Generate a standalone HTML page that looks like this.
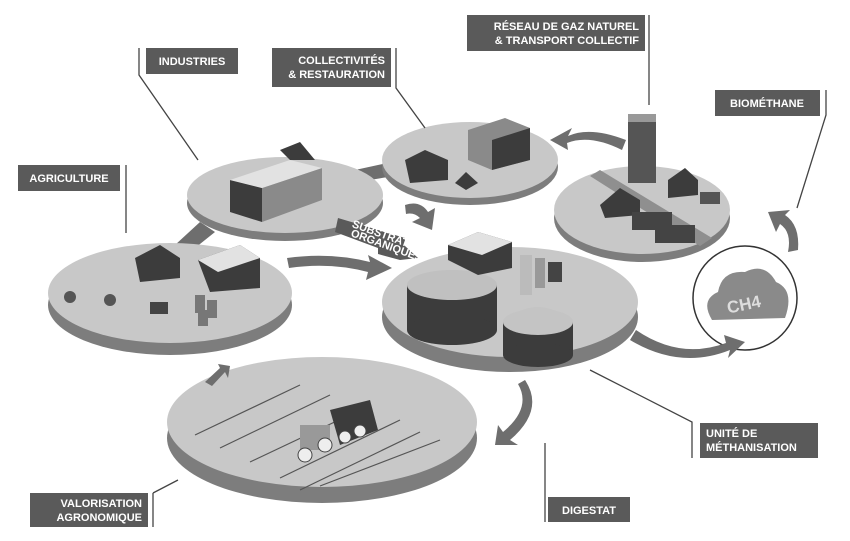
<!DOCTYPE html>
<html><head><meta charset="utf-8"><style>
body{margin:0;background:#fff}
svg{display:block}
.l{fill:#5a5a5a}
.t{fill:#fff;font-family:"Liberation Sans",sans-serif;font-weight:bold;font-size:11px}
.ln{stroke:#444;stroke-width:1.3;fill:none}
.top{fill:#c8c8c8}
.side{fill:#7d7d7d}
.arr{fill:#6e6e6e}
.bd{fill:#3c3c3c}
.bm{fill:#8a8a8a}
.bl{fill:#e2e2e2}
</style></head><body>
<svg width="850" height="541" viewBox="0 0 850 541">
<path class="arr" d="M175 245 L200 222 L215 232 L190 252Z"/>
<path class="arr" d="M355 170 L392 162 L394 176 L358 182Z"/>
<ellipse class="side" cx="285" cy="203" rx="98" ry="38"/><ellipse class="top" cx="285" cy="195" rx="98" ry="38"/>
<ellipse class="side" cx="470" cy="167" rx="88" ry="38"/><ellipse class="top" cx="470" cy="160" rx="88" ry="38"/>
<ellipse class="side" cx="642" cy="218" rx="88" ry="44"/><ellipse class="top" cx="642" cy="210" rx="88" ry="44"/>
<path d="M590 176 L700 246 L712 238 L600 170Z" fill="#8f8f8f"/>
<ellipse class="side" cx="170" cy="305" rx="122" ry="50"/><ellipse class="top" cx="170" cy="293" rx="122" ry="50"/>
<ellipse class="side" cx="510" cy="317" rx="128" ry="55"/><ellipse class="top" cx="510" cy="302" rx="128" ry="55"/>
<ellipse class="side" cx="322" cy="438" rx="155" ry="65"/><ellipse class="top" cx="322" cy="422" rx="155" ry="65"/>
<g stroke="#555" stroke-width="1.2">
<line x1="195" y1="435" x2="300" y2="385"/><line x1="220" y1="448" x2="330" y2="395"/><line x1="250" y1="462" x2="360" y2="410"/><line x1="280" y1="478" x2="400" y2="420"/><line x1="300" y1="490" x2="420" y2="432"/><line x1="320" y1="486" x2="440" y2="440"/>
</g>
<path class="bd" d="M330 410 L370 400 L378 430 L340 445Z"/><rect x="300" y="425" width="30" height="25" fill="#999"/>
<circle cx="305" cy="455" r="7" fill="#eee" stroke="#444"/><circle cx="325" cy="445" r="7" fill="#eee" stroke="#444"/><circle cx="345" cy="437" r="6" fill="#eee" stroke="#444"/><circle cx="360" cy="431" r="6" fill="#eee" stroke="#444"/>
<path class="bd" d="M230 180 L262 188 L262 222 L230 212Z"/><path class="bm" d="M262 188 L322 168 L322 200 L262 222Z"/><path class="bl" d="M230 180 L290 160 L322 168 L262 188Z"/><path class="bd" d="M280 150 L300 142 L315 160 L290 160Z"/>
<path class="bm" d="M468 130 L505 118 L530 128 L530 160 L492 170 L468 160Z"/><path class="bd" d="M492 140 L530 128 L530 160 L492 170Z"/>
<path class="bd" d="M405 160 L425 150 L448 160 L448 180 L410 183Z"/><path class="bd" d="M455 183 L466 172 L478 183 L466 190Z"/>
<rect x="628" y="118" width="28" height="65" fill="#555"/><rect x="628" y="114" width="28" height="8" fill="#999"/>
<path class="bd" d="M600 205 L620 188 L640 200 L640 215 L605 218Z"/><path class="bd" d="M668 180 L685 168 L698 180 L698 195 L668 198Z"/>
<rect x="632" y="212" width="40" height="18" fill="#444"/><rect x="655" y="225" width="40" height="18" fill="#444"/><rect x="700" y="192" width="20" height="12" fill="#555"/>
<path class="bd" d="M135 258 L160 245 L180 258 L180 278 L140 282Z"/><path class="bd" d="M198 260 L240 245 L260 258 L260 288 L210 292Z"/><path class="bl" d="M198 260 L240 245 L260 258 L218 272Z"/>
<circle cx="70" cy="297" r="6" fill="#555"/><circle cx="110" cy="300" r="6" fill="#555"/>
<rect x="195" y="295" width="10" height="18" fill="#777"/><rect x="207" y="300" width="10" height="18" fill="#777"/><rect x="198" y="310" width="10" height="16" fill="#777"/>
<rect x="150" y="302" width="18" height="12" fill="#444"/>
<rect x="407" y="285" width="90" height="45" class="bd"/><ellipse cx="452" cy="330" rx="45" ry="15" class="bd"/><ellipse cx="452" cy="285" rx="45" ry="15" fill="#c0c0c0"/><path d="M407 285 Q452 255 497 285" fill="#c0c0c0"/>
<rect x="503" y="322" width="70" height="33" class="bd"/><ellipse cx="538" cy="355" rx="35" ry="12" class="bd"/><ellipse cx="538" cy="322" rx="35" ry="13" fill="#c4c4c4"/><path d="M503 322 Q538 292 573 322" fill="#c4c4c4"/>
<path class="bd" d="M448 245 L478 232 L512 242 L512 268 L478 275 L448 260Z"/><path class="bl" d="M448 245 L478 232 L512 242 L482 255Z"/>
<rect x="520" y="255" width="12" height="40" fill="#bbb"/><rect x="535" y="258" width="10" height="30" fill="#999"/><rect x="548" y="262" width="14" height="20" fill="#444"/>
<circle cx="745" cy="298" r="52" fill="#fff" stroke="#333" stroke-width="1.5"/>
<path d="M712 320 Q700 300 718 292 Q722 270 745 272 Q765 262 776 282 Q795 290 785 318Z" fill="#8a8a8a"/>
<text x="727" y="310" fill="#ddd" font-family="Liberation Sans,sans-serif" font-weight="bold" font-size="17" transform="rotate(-12 745 305)">CH4</text>
<path class="arr" d="M287 258 Q330 252 370 262 L368 255 L392 268 L366 280 L368 272 Q330 262 289 268Z"/>
<path class="arr" d="M405 205 Q420 200 428 212 L435 208 L432 230 L412 222 L420 218 Q414 212 406 214Z"/>
<path class="arr" d="M626 140 Q590 126 568 136 L572 128 L550 140 L568 150 L567 143 Q590 134 622 150Z"/>
<path class="arr" d="M798 250 Q800 225 785 215 L790 210 L768 212 L776 232 L780 224 Q792 232 788 252Z"/>
<path class="arr" d="M630 340 Q680 370 730 350 L728 358 L745 342 L724 335 L726 343 Q680 360 636 330Z"/>
<path class="arr" d="M525 380 Q545 410 510 440 L518 445 L495 445 L498 425 L503 432 Q532 408 518 384Z"/>
<path class="arr" d="M205 382 L220 368 L218 364 L230 366 L228 378 L225 372 L212 386Z"/>
<path d="M338 218 L405 238 L405 246 L418 258 L400 260 L378 254 L378 248 L335 232Z" fill="#5a5a5a"/>
<text x="348" y="234" class="t" font-size="8.5" transform="rotate(20 370 240)">SUBSTRATS</text>
<text x="350" y="243" class="t" font-size="8.5" transform="rotate(20 370 240)">ORGANIQUES</text>
<path class="ln" d="M139 48 V75 L198 160"/>
<path class="ln" d="M396 48 V88 L425 128"/>
<path class="ln" d="M126 165 V233"/>
<path class="ln" d="M649 15 V105"/>
<path class="ln" d="M826 90 V115 L797 208"/>
<path class="ln" d="M590 370 L692 422 V458"/>
<path class="ln" d="M153 493 V527 M153 493 L178 480"/>
<path class="ln" d="M545 443 V522"/>
<rect class="l" x="146" y="48" width="92" height="26"/><text class="t" x="192" y="65" text-anchor="middle">INDUSTRIES</text>
<rect class="l" x="272" y="48" width="119" height="39"/><text class="t" x="385" y="64" text-anchor="end">COLLECTIVITÉS</text><text class="t" x="385" y="78" text-anchor="end">&amp; RESTAURATION</text>
<rect class="l" x="18" y="165" width="102" height="26"/><text class="t" x="69" y="182" text-anchor="middle">AGRICULTURE</text>
<rect class="l" x="467" y="15" width="178" height="36"/><text class="t" x="639" y="30" text-anchor="end">RÉSEAU DE GAZ NATUREL</text><text class="t" x="639" y="44" text-anchor="end">&amp; TRANSPORT COLLECTIF</text>
<rect class="l" x="715" y="90" width="105" height="26"/><text class="t" x="767" y="107" text-anchor="middle">BIOMÉTHANE</text>
<rect class="l" x="700" y="423" width="118" height="35"/><text class="t" x="706" y="437">UNITÉ DE</text><text class="t" x="706" y="451">MÉTHANISATION</text>
<rect class="l" x="30" y="493" width="118" height="34"/><text class="t" x="142" y="507" text-anchor="end">VALORISATION</text><text class="t" x="142" y="521" text-anchor="end">AGRONOMIQUE</text>
<rect class="l" x="548" y="497" width="82" height="25"/><text class="t" x="589" y="514" text-anchor="middle">DIGESTAT</text>
</svg>
</body></html>
